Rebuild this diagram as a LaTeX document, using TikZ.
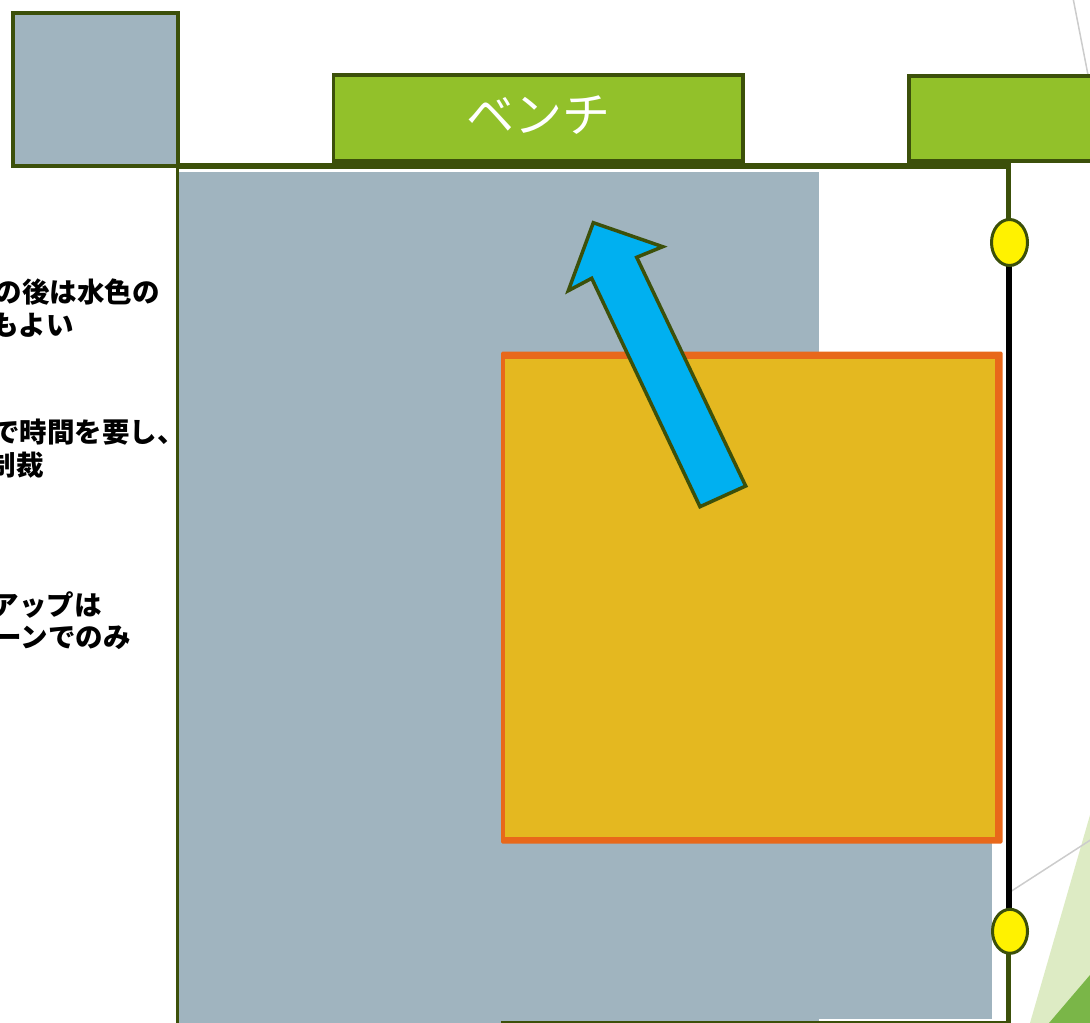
\documentclass[tikz,border=0pt]{standalone}
\usepackage{fontspec}
\newfontfamily\jp{Noto Sans CJK JP}
\definecolor{dkgreen}{HTML}{3C500A}
\definecolor{lgreen}{HTML}{92C12A}
\definecolor{grayblue}{HTML}{A0B4BF}
\definecolor{gold}{HTML}{E4B820}
\definecolor{orangeb}{HTML}{E8681A}
\definecolor{skyblue}{HTML}{00B0F0}
\definecolor{paleg}{HTML}{DDEBC4}
\definecolor{midg}{HTML}{7AB648}
\definecolor{faint}{HTML}{CCCCCC}
\tikzset{
  boxline/.style={draw=dkgreen, line width=3.5pt, line join=miter},
  greenbox/.style={boxline, fill=lgreen},
  lefttext/.style={anchor=east, inner sep=0pt, font=\jp\bfseries\fontsize{27.5}{32}\selectfont, text=black},
  pin/.style={ellipse, draw=dkgreen, line width=3pt, fill=yellow, minimum width=36pt, minimum height=46pt, inner sep=0pt},
}
\usetikzlibrary{shapes.geometric}
\begin{document}
\begin{tikzpicture}[x=1pt,y=-1pt]
\useasboundingbox (0,0) rectangle (1090,1023);
\clip (0,0) rectangle (1090,1023);
% background decorations on the right
\fill[paleg] (1030,1023) -- (1090,815) -- (1090,1023) -- cycle;
\fill[midg] (1049,1023) -- (1090,975) -- (1090,1023) -- cycle;
\draw[faint, line width=1.5pt] (1073,-2) -- (1089,80);
\draw[faint, line width=1.5pt] (1010,892) -- (1092,839);
% gray regions
\fill[grayblue] (179,172) rectangle (819,1023);
\fill[grayblue] (501,600) rectangle (992,1019);
% frame lines
\draw[dkgreen, line width=3pt] (177.5,166) -- (177.5,1025);
\draw[dkgreen, line width=3pt] (501,1022.5) -- (1008.5,1022.5);
% top-left square
\draw[boxline, fill=grayblue] (13,13) rectangle (178,166);
% green boxes
\draw[greenbox] (333.5,75) rectangle (743,161);
\node[inner sep=0pt, text=white, font=\jp\fontsize{48}{52}\selectfont] (bench) at (538,115) {ベンチ};
\draw[greenbox] (909,76) rectangle (1110,161);
% top horizontal line and right vertical
\draw[dkgreen, line width=5.5pt, line join=miter] (176,166) -- (1008.5,166) -- (1008.5,230);
\draw[dkgreen, line width=4.5pt] (1008.5,940) -- (1008.5,1025);
\draw[black, line width=6pt] (1009,250) -- (1009,920);
% orange box
\fill[orangeb, rounded corners=1.5pt] (501,351.5) rectangle (1002.7,843.5);
\fill[gold] (504.5,359) rectangle (995,836.7);
% blue arrow
\draw[draw=dkgreen, line width=3.5pt, fill=skyblue, line join=miter]
  (593.3,222.7) -- (662.7,246.7) -- (636.7,257.3) -- (745.7,486) -- (700,506.7)
  -- (591.7,278.3) -- (568.3,290.7) -- cycle;
% pins
\node[pin] (pintop) at (1009.5,242.5) {};
\node[pin, minimum width=35pt, minimum height=44pt] (pinbot) at (1010,931.3) {};
% left texts
\node[lefttext] (t1) at (160,292) {の後は水色の};
\node[lefttext] (t2) at (74,325) {もよい};
\node[lefttext] (t3) at (185,432) {で時間を要し、};
\node[lefttext] (t4) at (44,465) {制裁};
\node[lefttext] (t5) at (102,605) {アップは};
\node[lefttext] (t6) at (131,638) {ーンでのみ};
\end{tikzpicture}
\end{document}
